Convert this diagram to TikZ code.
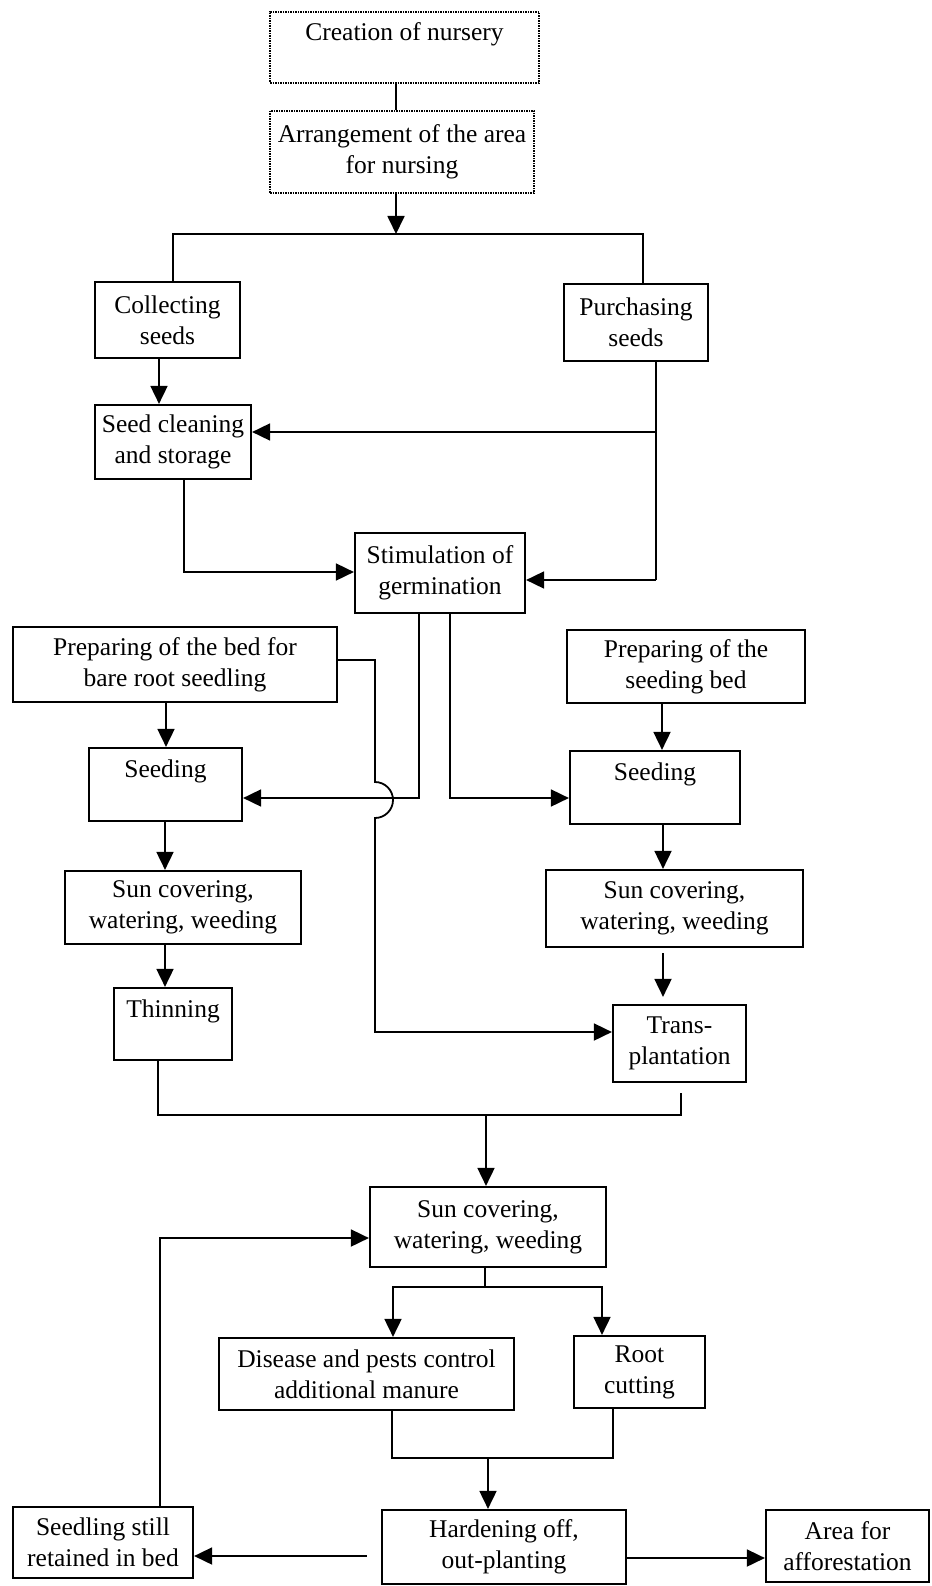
\documentclass[tikz,border=0pt]{standalone}
\usepackage{fontspec}
\setmainfont{Liberation Serif}
\usetikzlibrary{arrows.meta}
\begin{document}
\begin{tikzpicture}[x=1pt,y=-1pt,
  font=\fontsize{25.5}{31}\selectfont,
  box/.style={draw, rectangle, line width=2.2pt, inner sep=0pt, align=center},
  dotbox/.style={draw, rectangle, densely dotted, line width=1.5pt, inner sep=0pt, align=center},
  conn/.style={line width=1.8pt},
  arr/.style={conn, -{Triangle[length=18pt,width=17pt]}},
]
\useasboundingbox[fill=white] (0,0) rectangle (931,1586);

% boxes
\node[dotbox, minimum width=269pt, minimum height=71pt] (creation) at (404.5,47.5) {Creation of nursery\\\mbox{}};
\node[dotbox, minimum width=264pt, minimum height=82pt] (arrange) at (402,152) {Arrangement of the area\\for nursing};
\node[box, minimum width=145pt, minimum height=76pt] (collect) at (167.5,320) {Collecting\\seeds};
\node[box, minimum width=144pt, minimum height=77pt] (purchase) at (636,322.5) {Purchasing\\seeds};
\node[box, minimum width=156pt, minimum height=74pt] (clean) at (173,442) {Seed cleaning\\and storage};
\node[box, minimum width=170pt, minimum height=80pt] (stim) at (440,573) {Stimulation of\\germination};
\node[box, minimum width=324pt, minimum height=75pt] (prepL) at (175,664.5) {Preparing of the bed for\\bare root seedling};
\node[box, minimum width=238pt, minimum height=73pt] (prepR) at (686,666.5) {Preparing of the\\seeding bed};
\node[box, minimum width=153pt, minimum height=73pt] (seedL) at (165.5,784.5) {Seeding\\\mbox{}};
\node[box, minimum width=170pt, minimum height=73pt] (seedR) at (655,787.5) {Seeding\\\mbox{}};
\node[box, minimum width=236pt, minimum height=73pt] (sunL) at (183,907.5) {Sun covering,\\watering, weeding};
\node[box, minimum width=257pt, minimum height=77pt] (sunR) at (674.5,908.5) {Sun covering,\\watering, weeding};
\node[box, minimum width=118pt, minimum height=72pt] (thin) at (173,1024) {Thinning\\\mbox{}};
\node[box, minimum width=133pt, minimum height=77pt] (trans) at (679.5,1043.5) {Trans-\\plantation};
\node[box, minimum width=236pt, minimum height=80pt] (sunC) at (488,1227) {Sun covering,\\watering, weeding};
\node[box, minimum width=295pt, minimum height=72pt] (disease) at (366.5,1374) {Disease and pests control\\additional manure};
\node[box, minimum width=131pt, minimum height=72pt] (root) at (639.5,1372) {Root\\cutting};
\node[box, minimum width=244pt, minimum height=74pt] (hard) at (504,1547) {Hardening off,\\out-planting};
\node[box, minimum width=180pt, minimum height=71pt] (seedling) at (103,1542.5) {Seedling still\\retained in bed};
\node[box, minimum width=163pt, minimum height=72pt] (area) at (847.5,1546) {Area for\\afforestation};

% connectors
\coordinate (sp) at (396,234);
\coordinate (spL) at (173,234);
\coordinate (spR) at (643,234);
\draw[conn] (creation.south -| sp) -- (arrange.north -| sp);
\draw[arr] (arrange.south -| sp) -- (sp);
\draw[conn] (collect.north -| spL) -- (spL) -- (spR) -- (purchase.north -| spR);

\coordinate (xc) at (159,0);
\draw[arr] (collect.south -| xc) -- (clean.north -| xc);

\coordinate (jp1) at (656,432);
\coordinate (jp2) at (656,580);
\draw[conn] (purchase.south -| jp1) -- (jp2);
\draw[arr] (jp1) -- (clean.east |- jp1);
\draw[arr] (jp2) -- (stim.east |- jp2);

\coordinate (jc) at (184,572);
\draw[arr] (clean.south -| jc) -- (jc) -- (stim.west |- jc);

\coordinate (js1) at (419,798);
\coordinate (js2) at (450,798);
\draw[arr] (stim.south -| js1) -- (js1) -- (seedL.east |- js1);
\draw[arr] (stim.south -| js2) -- (js2) -- (seedR.west |- js2);

\coordinate (xL) at (166,0);
\draw[arr] (prepL.south -| xL) -- (seedL.north -| xL);
\coordinate (xR) at (662,0);
\draw[arr] (prepR.south -| xR) -- (seedR.north -| xR);

\coordinate (h0) at (375,660);
\coordinate (h1) at (375,782);
\coordinate (h2) at (375,1032);
\draw[arr] (prepL.east |- h0) -- (h0) -- (h1) arc[start angle=90,end angle=-90,radius=18pt] -- (h2) -- (trans.west |- h2);

\coordinate (xl2) at (165,0);
\draw[arr] (seedL.south -| xl2) -- (sunL.north -| xl2);
\draw[arr] (sunL.south -| xl2) -- (thin.north -| xl2);
\coordinate (xr2) at (663,0);
\draw[arr] (seedR.south -| xr2) -- (sunR.north -| xr2);
\draw[arr, shorten <=5pt, shorten >=7pt] (sunR.south -| xr2) -- (trans.north -| xr2);

\coordinate (mL) at (158,1115);
\coordinate (mR) at (681,1115);
\coordinate (mM) at (486,1115);
\draw[conn, shorten <=10pt] (trans.south -| mR) -- (mR) -- (mL) -- (thin.south -| mL);
\draw[arr] (mM) -- (sunC.north -| mM);

\coordinate (d0) at (485,1287);
\coordinate (dL) at (393,1287);
\coordinate (dR) at (602,1287);
\draw[conn] (sunC.south -| d0) -- (d0);
\draw[arr] (d0) -| (disease.north -| dL);
\draw[arr] (d0) -| (root.north -| dR);

\coordinate (eL) at (392,1458);
\coordinate (eR) at (613,1458);
\coordinate (eM) at (488,1458);
\draw[conn] (disease.south -| eL) -- (eL) -- (eR) -- (root.south -| eR);
\draw[arr] (eM) -- (hard.north -| eM);

\coordinate (f1) at (0,1556);
\draw[arr, shorten <=14pt] (hard.west |- f1) -- (seedling.east |- f1);
\coordinate (g0) at (160,1238);
\draw[arr] (seedling.north -| g0) -- (g0) -- (sunC.west |- g0);
\coordinate (f2) at (0,1558);
\draw[arr] (hard.east |- f2) -- (area.west |- f2);
\end{tikzpicture}
\end{document}
